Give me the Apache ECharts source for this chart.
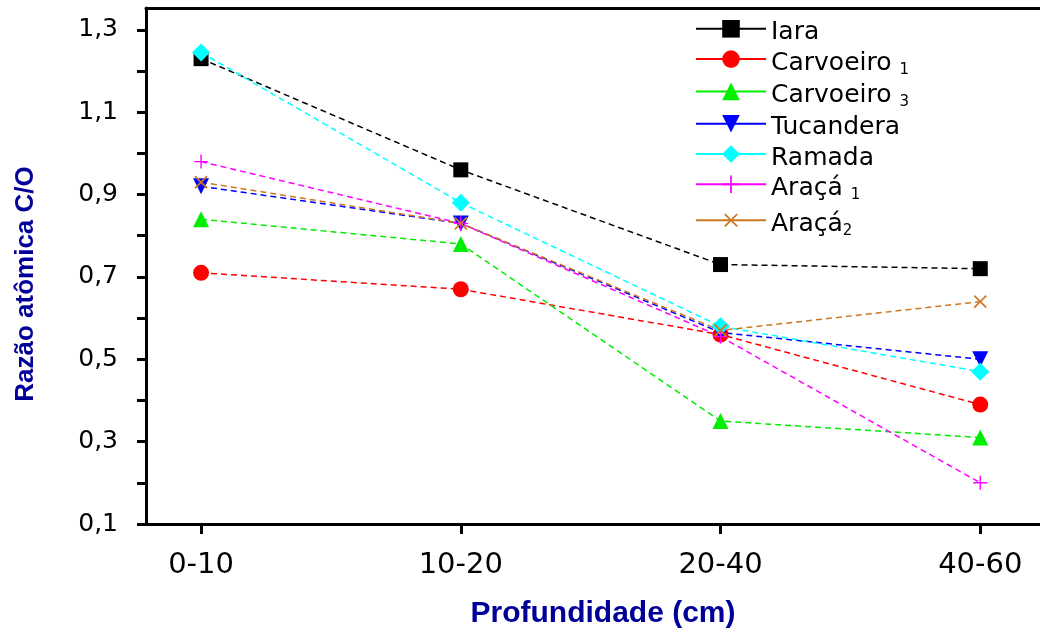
<!DOCTYPE html>
<html>
<head>
<meta charset="utf-8">
<script src="https://cdn.jsdelivr.net/npm/echarts@6/dist/echarts.min.js"></script>
<style>
  html, body { margin: 0; padding: 0; background: #fff; }
  #chartLineBox { width: 1040px; height: 635px; }
</style>
</head>
<body>
<div id="chartLineBox"></div>
<script>
    // profundidades (eixo x)
    var categorias = ['0-10', '10-20', '20-40', '40-60'];
    var yTicks = [0.1, 0.3, 0.5, 0.7, 0.9, 1.1, 1.3];
    var yTicksMenores = [0.1, 0.2, 0.3, 0.4, 0.5, 0.6, 0.7, 0.8, 0.9, 1.0, 1.1, 1.2, 1.3];

    // razão atômica C/O por área
    var iara = [1.23, 0.96, 0.73, 0.72];
    var carvoeiro1 = [0.71, 0.67, 0.56, 0.39];
    var carvoeiro3 = [0.84, 0.78, 0.35, 0.31];
    var tucandera = [0.92, 0.83, 0.565, 0.50];
    var ramada = [1.245, 0.88, 0.58, 0.47];
    var araca1 = [0.98, 0.83, 0.555, 0.20];
    var araca2 = [0.93, 0.83, 0.57, 0.64];

    var plus = 'path://M9,0h2v9h9v2h-9v9h-2v-9h-9v-2h9z';

    function pontos(arr) {
        return arr.map(function (v, i) { return [i, v]; });
    }

    function serie(name, data, color, symbol, size, rotate) {
        return {
            name: name,
            type: 'line',
            data: pontos(data),
            symbol: symbol,
            symbolSize: size,
            symbolRotate: rotate || 0,
            showAllSymbol: true,
            color: color,
            itemStyle: { color: color },
            lineStyle: { color: color, width: 1.5, type: [6, 4] },
            emphasis: { disabled: true },
            z: 3
        };
    }

    var nomes = {
        'Iara': 'Iara',
        'Carvoeiro1': 'Carvoeiro {sub|1}',
        'Carvoeiro3': 'Carvoeiro {sub|3}',
        'Tucandera': 'Tucandera',
        'Ramada': 'Ramada',
        'Araca1': 'Araçá {sub|1}',
        'Araca2': 'Araçá{sub|2}'
    };

    var chartLine = echarts.init(document.getElementById('chartLineBox'));
    var option = {
        animation: false,
        backgroundColor: '#fff',
        grid: { left: 146, right: 0, top: 8, bottom: 111 },
        legend: {
            orient: 'vertical',
            left: 695,
            top: 20,
            padding: 0,
            itemWidth: 70,
            itemHeight: 22,
            itemGap: 5,
            lineStyle: { type: 'solid', width: 2 },
            formatter: function (n) { return nomes[n]; },
            textStyle: {
                fontFamily: 'DejaVu Sans',
                fontSize: 25,
                color: '#000',
                padding: [8, 0, 0, 0],
                rich: {
                    sub: { fontFamily: 'DejaVu Sans', fontSize: 15, verticalAlign: 'bottom', padding: [14, 0, 0, 0] }
                }
            }
        },
        xAxis: [{
            type: 'value',
            min: -0.212,
            max: 3.23,
            splitLine: { show: false },
            axisLine: { onZero: false, lineStyle: { color: '#000', width: 3 } },
            axisTick: { customValues: [0, 1, 2, 3], length: 10, lineStyle: { color: '#000', width: 3 } },
            axisLabel: {
                customValues: [0, 1, 2, 3],
                formatter: function (v) { return categorias[Math.round(v)]; },
                margin: 27,
                color: '#000',
                fontFamily: 'DejaVu Sans',
                fontSize: 29
            }
        }, {
            type: 'value',
            position: 'top',
            min: -0.212,
            max: 3.23,
            splitLine: { show: false },
            axisLine: { onZero: false, lineStyle: { color: '#000', width: 3 } },
            axisTick: { show: false },
            axisLabel: { show: false }
        }],
        yAxis: {
            type: 'value',
            min: 0.1,
            max: 1.353,
            splitLine: { show: false },
            axisLine: { show: true, onZero: false, lineStyle: { color: '#000', width: 3 } },
            axisTick: { customValues: yTicksMenores, length: 9, lineStyle: { color: '#000', width: 3 } },
            axisLabel: {
                customValues: yTicks,
                formatter: function (v) { return v.toFixed(1).replace('.', ','); },
                margin: 28,
                color: '#000',
                fontFamily: 'DejaVu Sans',
                fontSize: 25
            }
        },
        graphic: [{
            type: 'text',
            x: 603, y: 614,
            style: {
                text: 'Profundidade (cm)',
                font: 'bold 30px "Liberation Sans Narrow", "Liberation Sans", Arial',
                fill: '#000099',
                textAlign: 'center',
                textVerticalAlign: 'middle'
            }
        }, {
            type: 'text',
            x: 26, y: 284,
            rotation: Math.PI / 2,
            style: {
                text: 'Razão atômica C/O',
                font: 'bold 26px "Liberation Sans", Arial',
                fill: '#000099',
                textAlign: 'center',
                textVerticalAlign: 'middle'
            }
        }],
        series: [
            serie('Iara', iara, '#000000', 'rect', 15),
            serie('Carvoeiro1', carvoeiro1, '#ff0000', 'circle', 16),
            serie('Carvoeiro3', carvoeiro3, '#00ee00', 'triangle', 16),
            serie('Tucandera', tucandera, '#0000ff', 'triangle', 16, 180),
            serie('Ramada', ramada, '#00ffff', 'diamond', 18),
            serie('Araca1', araca1, '#ff00ff', plus, 14),
            serie('Araca2', araca2, '#cc7722', plus, 17, 45)
        ]
    };
    chartLine.setOption(option);
</script>
</body>
</html>
